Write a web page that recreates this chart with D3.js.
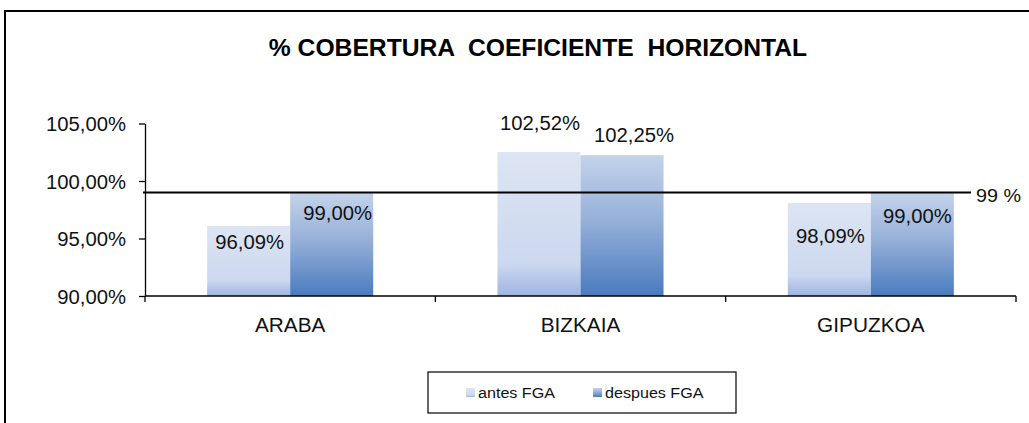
<!DOCTYPE html>
<html>
<head>
<meta charset="utf-8">
<script src="https://cdn.jsdelivr.net/npm/d3@7"></script>
<style>
  body { margin: 0; background: #fff; }
  svg { display: block; font-family: "Liberation Sans", Arial, sans-serif; }
</style>
</head>
<body>
<div id="chart"></div>
<script>

// data
var categories = ["ARABA", "BIZKAIA", "GIPUZKOA"];
var seriesNames = ["antes FGA", "despues FGA"];
var antes = [96.09, 102.52, 98.09];
var despues = [99.00, 102.25, 99.00];
var target = 99;
var targetLabel = "99 %";
var yTicks = [90, 95, 100, 105];
var title = "% COBERTURA  COEFICIENTE  HORIZONTAL";

// the original labels were placed by hand, so nudge them (dx, dy from bar top)
var labelNudge = [
  [[1, 16], [6, 20]],
  [[1, -29], [12, -20]],
  [[1, 33], [5, 23]]
];

var width = 1029, height = 423;
// text in the source picture is a little wider than normal
var sx = 1.04;

var svg = d3.select("#chart").append("svg")
  .attr("width", width)
  .attr("height", height);

var defs = svg.append("defs");

function grad(id, stops) {
  var g = defs.append("linearGradient")
    .attr("id", id)
    .attr("x1", 0).attr("y1", 0).attr("x2", 0).attr("y2", 1);
  stops.forEach(function(s) {
    g.append("stop").attr("offset", s[0]).attr("stop-color", s[1]);
  });
}
grad("gAntes", [["0%", "#dde5f3"], ["78%", "#ccd8ef"], ["100%", "#9fb4e2"]]);
grad("gDespues", [["0%", "#c3d3ea"], ["45%", "#97b1d9"], ["100%", "#4a7bbf"]]);
var fills = ["url(#gAntes)", "url(#gDespues)"];

// outer frame (runs off the right and bottom edges)
svg.append("rect")
  .attr("x", 5).attr("y", 11)
  .attr("width", 1100).attr("height", 500)
  .attr("fill", "none")
  .attr("stroke", "#000")
  .attr("stroke-width", 2);

// stretched text helper
function label(g, x, y, txt, size, anchor, s) {
  return g.append("text")
    .attr("transform", "translate(" + x + "," + y + ") scale(" + (s || sx) + ",1)")
    .attr("text-anchor", anchor || "middle")
    .attr("font-size", size)
    .attr("fill", "#111")
    .text(txt);
}

label(svg, 538, 56, title, 23.5, "middle", 1.05)
  .attr("font-weight", "bold")
  .attr("fill", "#000")
  .style("white-space", "pre");

var left = 145, right = 1016;

var x0 = d3.scaleBand()
  .domain(categories)
  .range([left, right])
  .paddingInner(0.428)
  .paddingOuter(0.214);

var x1 = d3.scaleBand()
  .domain(seriesNames)
  .range([0, x0.bandwidth()]);

var y = d3.scaleLinear()
  .domain([90, 105])
  .range([296, 123.5]);

var fmt = function(d) { return d.toFixed(2).replace(".", ",") + "%"; };

// bars
var rows = categories.map(function(c, i) {
  return { cat: c, i: i, vals: [antes[i], despues[i]] };
});

var groups = svg.selectAll(".cat")
  .data(rows)
  .enter().append("g")
  .attr("class", "cat")
  .attr("transform", function(d) { return "translate(" + x0(d.cat) + ",0)"; });

groups.selectAll("rect")
  .data(function(d) { return d.vals.map(function(v, k) { return { v: v, k: k, i: d.i }; }); })
  .enter().append("rect")
  .attr("x", function(d) { return x1(seriesNames[d.k]); })
  .attr("y", function(d) { return y(d.v); })
  .attr("width", x1.bandwidth())
  .attr("height", function(d) { return y(90) - y(d.v); })
  .attr("fill", function(d) { return fills[d.k]; });

// y axis
var yAxis = svg.append("g")
  .attr("transform", "translate(" + left + ",0)")
  .call(d3.axisLeft(y).tickValues(yTicks).tickSize(6).tickSizeOuter(0).tickFormat(fmt));
yAxis.select(".domain").attr("stroke", "#000").attr("stroke-width", 1.3);
yAxis.selectAll(".tick line").attr("stroke", "#000").attr("stroke-width", 1.3);
yAxis.selectAll(".tick text")
  .attr("x", 0)
  .attr("dy", null)
  .attr("transform", "translate(-19,7) scale(" + sx + ",1)")
  .attr("font-family", null)
  .attr("font-size", 19.5)
  .attr("fill", "#111");

// x axis: base line, boundary ticks, labels
svg.append("line")
  .attr("x1", left).attr("x2", right)
  .attr("y1", y(90)).attr("y2", y(90))
  .attr("stroke", "#000").attr("stroke-width", 1.3);

var gap = (x0.step() - x0.bandwidth()) / 2;
var bounds = categories.map(function(c) { return x0(c) - gap; }).concat([right]);
svg.selectAll(".xtick")
  .data(bounds)
  .enter().append("line")
  .attr("x1", function(d) { return d; }).attr("x2", function(d) { return d; })
  .attr("y1", y(90)).attr("y2", y(90) + 6)
  .attr("stroke", "#000").attr("stroke-width", 1.3);

categories.forEach(function(c) {
  label(svg, x0(c) + x0.bandwidth() / 2, 332, c, 20);
});

// target line
svg.append("line")
  .attr("x1", left - 2).attr("x2", 971)
  .attr("y1", y(target)).attr("y2", y(target))
  .attr("stroke", "#000")
  .attr("stroke-width", 2.2);
label(svg, 976, y(target) + 9, targetLabel, 19, "start");

// data labels
rows.forEach(function(r) {
  r.vals.forEach(function(v, k) {
    var n = labelNudge[r.i][k];
    var cx = x0(r.cat) + x1(seriesNames[k]) + x1.bandwidth() / 2 + n[0];
    label(svg, cx, y(v) + n[1] + 7, fmt(v), 19.5);
  });
});

// legend
var lg = svg.append("g").attr("transform", "translate(428,372)");
lg.append("rect")
  .attr("width", 308).attr("height", 41)
  .attr("fill", "#fff")
  .attr("stroke", "#000")
  .attr("stroke-width", 1.2);

var legendX = [38, 165];
seriesNames.forEach(function(s, k) {
  lg.append("rect")
    .attr("x", legendX[k]).attr("y", 16)
    .attr("width", 9).attr("height", 9)
    .attr("fill", fills[k]);
  label(lg, legendX[k] + 12, 26, s, 15.5, "start");
});

</script>
</body>
</html>
